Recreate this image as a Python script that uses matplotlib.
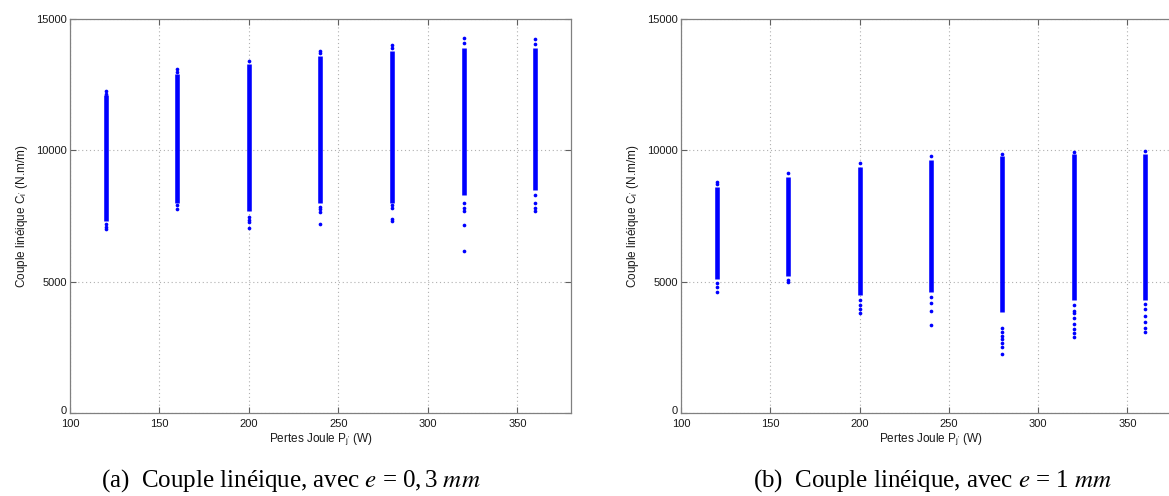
import matplotlib
matplotlib.use("Agg")
import matplotlib.pyplot as plt
from matplotlib.transforms import ScaledTranslation

# ---- data ----
pertes = [120, 160, 200, 240, 280, 320, 360]

# e = 0.3 mm : dense range (low, high) of each column and isolated points
a_low = [7300, 8000, 7700, 8000, 8000, 8300, 8500]
a_high = [12100, 12900, 13300, 13600, 13800, 13900, 13900]
a_extra = [
    [12250, 12150, 7200, 7100, 7000],
    [13100, 13000, 7900, 7750],
    [13420, 7450, 7350, 7280, 7050],
    [13800, 13700, 7850, 7750, 7650, 7200],
    [14000, 13900, 7900, 7800, 7400, 7320],
    [14270, 14100, 8000, 7800, 7700, 7150, 6170],
    [14230, 14050, 8300, 8000, 7800, 7700],
]

# e = 1 mm
b_low = [5100, 5200, 4500, 4600, 3850, 4300, 4300]
b_high = [8600, 9000, 9350, 9650, 9800, 9850, 9850]
b_extra = [
    [8780, 8700, 4950, 4800, 4600],
    [9130, 5050, 4980],
    [9500, 4300, 4100, 3950, 3820],
    [9800, 4400, 4200, 3900, 3350],
    [9870, 3250, 3100, 2950, 2800, 2650, 2500, 2250],
    [9950, 4100, 3900, 3800, 3600, 3400, 3200, 3050, 2900],
    [9990, 4150, 3950, 3700, 3450, 3250, 3100],
]

xticks = [100, 150, 200, 250, 300, 350]
yticks = [0, 5000, 10000, 15000]
captions = [r"(a)  Couple linéique, avec $e$ = 0,$\,$3 $mm$",
            r"(b)  Couple linéique, avec $e$ = 1 $mm$"]
xlabel = r"Pertes Joule P$_{\mathregular{j'}}$ (W)"
ylabel = r"Couple linéique C$_{\mathregular{l'}}$ (N.m/m)"

plt.rcParams['font.family'] = ['Liberation Sans', 'DejaVu Sans']
plt.rcParams['mathtext.fontset'] = 'stix'

W, H = 1169, 496
fig = plt.figure(figsize=(W / 100, H / 100), dpi=100)

axes_px = [(70, 19, 501, 394), (681, 19, 500, 394)]
datasets = [(a_low, a_high, a_extra), (b_low, b_high, b_extra)]
cap_x = [291, 933]

for (x0, y0, w, h), (lo, hi, ex), cap, cx in zip(axes_px, datasets, captions, cap_x):
    ax = fig.add_axes([x0 / W, 1 - (y0 + h) / H, w / W, h / H])
    ax.vlines(pertes, lo, hi, colors='#0000ff', linewidth=3.3, zorder=3)
    xs, ys = [], []
    for p, e in zip(pertes, ex):
        xs += [p] * len(e)
        ys += e
    ax.scatter(xs, ys, s=7, color='#0000ff', marker='o', linewidths=0, zorder=3)
    ax.set_xlim(100, 380)
    ax.set_ylim(0, 15000)
    ax.set_xticks(xticks)
    ax.set_yticks(yticks)
    ax.grid(True, linestyle=(0, (1, 2.5)), color='#b0b0b0', linewidth=0.8)
    ax.set_axisbelow(True)
    for s in ax.spines.values():
        s.set_color('#808080')
        s.set_linewidth(0.9)
    ax.tick_params(direction='in', top=True, right=True, length=4,
                   labelsize=8, color='#606060', labelcolor='#1a1a1a', pad=2)
    ax.tick_params(axis='x', pad=4)
    ylabs = ax.get_yticklabels()
    ylabs[0].set_transform(ylabs[0].get_transform() +
                           ScaledTranslation(0, 3 / 100, fig.dpi_scale_trans))
    ax.set_xlabel(xlabel, fontsize=8.5, labelpad=2, color='#1a1a1a')
    ax.set_ylabel(ylabel, fontsize=8.5, labelpad=5, color='#1a1a1a')
    fig.text(cx / W, 1 - 481 / H, cap, ha='center', va='center',
             fontsize=18, family='Liberation Serif')

fig.savefig("out.png", dpi=100)
